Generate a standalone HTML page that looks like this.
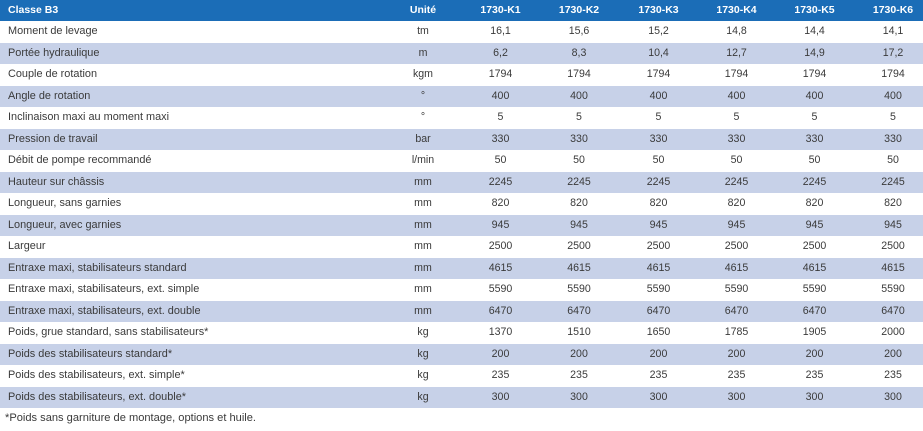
<!DOCTYPE html>
<html>
<head>
<meta charset="utf-8">
<style>
  html,body{margin:0;padding:0;background:#fff;}
  body{width:923px;height:431px;position:relative;overflow:hidden;font-family:"Liberation Sans",Arial,sans-serif;color:#3a3a3a;}
  .r{position:absolute;left:0;width:923px;height:21.5px;line-height:21.5px;font-size:10.6px;}
  .b{background:#c7d1e8;}
  .h{top:0;height:21px;line-height:21px;background:#1b6db7;color:#fff;font-weight:bold;font-size:10.5px;}
  .l{position:absolute;left:8px;font-size:10.9px;white-space:nowrap;}
  .c{position:absolute;width:70px;text-align:center;white-space:nowrap;}
  .u{left:388px;}
  .k1{left:465.5px;}
  .k2{left:544px;}
  .k3{left:623.5px;}
  .k4{left:701.5px;}
  .k5{left:779.5px;}
  .k6{left:858px;}
  .foot{position:absolute;left:5px;top:411px;font-size:11.1px;line-height:14px;white-space:nowrap;}
</style>
</head>
<body>
<div class="r h"><span class="l" style="font-size:10.5px">Classe B3</span><span class="c u">Unité</span><span class="c k1">1730-K1</span><span class="c k2">1730-K2</span><span class="c k3">1730-K3</span><span class="c k4">1730-K4</span><span class="c k5">1730-K5</span><span class="c k6">1730-K6</span></div>

<div class="r" style="top:21px"><span class="l">Moment de levage</span><span class="c u">tm</span><span class="c k1">16,1</span><span class="c k2">15,6</span><span class="c k3">15,2</span><span class="c k4">14,8</span><span class="c k5">14,4</span><span class="c k6">14,1</span></div>
<div class="r b" style="top:42.5px"><span class="l">Portée hydraulique</span><span class="c u">m</span><span class="c k1">6,2</span><span class="c k2">8,3</span><span class="c k3">10,4</span><span class="c k4">12,7</span><span class="c k5">14,9</span><span class="c k6">17,2</span></div>
<div class="r" style="top:64px"><span class="l">Couple de rotation</span><span class="c u">kgm</span><span class="c k1">1794</span><span class="c k2">1794</span><span class="c k3">1794</span><span class="c k4">1794</span><span class="c k5">1794</span><span class="c k6">1794</span></div>
<div class="r b" style="top:85.5px"><span class="l">Angle de rotation</span><span class="c u">°</span><span class="c k1">400</span><span class="c k2">400</span><span class="c k3">400</span><span class="c k4">400</span><span class="c k5">400</span><span class="c k6">400</span></div>
<div class="r" style="top:107px"><span class="l">Inclinaison maxi au moment maxi</span><span class="c u">°</span><span class="c k1">5</span><span class="c k2">5</span><span class="c k3">5</span><span class="c k4">5</span><span class="c k5">5</span><span class="c k6">5</span></div>
<div class="r b" style="top:128.5px"><span class="l">Pression de travail</span><span class="c u">bar</span><span class="c k1">330</span><span class="c k2">330</span><span class="c k3">330</span><span class="c k4">330</span><span class="c k5">330</span><span class="c k6">330</span></div>
<div class="r" style="top:150px"><span class="l">Débit de pompe recommandé</span><span class="c u">l/min</span><span class="c k1">50</span><span class="c k2">50</span><span class="c k3">50</span><span class="c k4">50</span><span class="c k5">50</span><span class="c k6">50</span></div>
<div class="r b" style="top:171.5px"><span class="l">Hauteur sur châssis</span><span class="c u">mm</span><span class="c k1">2245</span><span class="c k2">2245</span><span class="c k3">2245</span><span class="c k4">2245</span><span class="c k5">2245</span><span class="c k6">2245</span></div>
<div class="r" style="top:193px"><span class="l">Longueur, sans garnies</span><span class="c u">mm</span><span class="c k1">820</span><span class="c k2">820</span><span class="c k3">820</span><span class="c k4">820</span><span class="c k5">820</span><span class="c k6">820</span></div>
<div class="r b" style="top:214.5px"><span class="l">Longueur, avec garnies</span><span class="c u">mm</span><span class="c k1">945</span><span class="c k2">945</span><span class="c k3">945</span><span class="c k4">945</span><span class="c k5">945</span><span class="c k6">945</span></div>
<div class="r" style="top:236px"><span class="l">Largeur</span><span class="c u">mm</span><span class="c k1">2500</span><span class="c k2">2500</span><span class="c k3">2500</span><span class="c k4">2500</span><span class="c k5">2500</span><span class="c k6">2500</span></div>
<div class="r b" style="top:257.5px"><span class="l">Entraxe maxi, stabilisateurs standard</span><span class="c u">mm</span><span class="c k1">4615</span><span class="c k2">4615</span><span class="c k3">4615</span><span class="c k4">4615</span><span class="c k5">4615</span><span class="c k6">4615</span></div>
<div class="r" style="top:279px"><span class="l">Entraxe maxi, stabilisateurs, ext. simple</span><span class="c u">mm</span><span class="c k1">5590</span><span class="c k2">5590</span><span class="c k3">5590</span><span class="c k4">5590</span><span class="c k5">5590</span><span class="c k6">5590</span></div>
<div class="r b" style="top:300.5px"><span class="l">Entraxe maxi, stabilisateurs, ext. double</span><span class="c u">mm</span><span class="c k1">6470</span><span class="c k2">6470</span><span class="c k3">6470</span><span class="c k4">6470</span><span class="c k5">6470</span><span class="c k6">6470</span></div>
<div class="r" style="top:322px"><span class="l">Poids, grue standard, sans stabilisateurs*</span><span class="c u">kg</span><span class="c k1">1370</span><span class="c k2">1510</span><span class="c k3">1650</span><span class="c k4">1785</span><span class="c k5">1905</span><span class="c k6">2000</span></div>
<div class="r b" style="top:343.5px"><span class="l">Poids des stabilisateurs standard*</span><span class="c u">kg</span><span class="c k1">200</span><span class="c k2">200</span><span class="c k3">200</span><span class="c k4">200</span><span class="c k5">200</span><span class="c k6">200</span></div>
<div class="r" style="top:365px"><span class="l">Poids des stabilisateurs, ext. simple*</span><span class="c u">kg</span><span class="c k1">235</span><span class="c k2">235</span><span class="c k3">235</span><span class="c k4">235</span><span class="c k5">235</span><span class="c k6">235</span></div>
<div class="r b" style="top:386.5px"><span class="l">Poids des stabilisateurs, ext. double*</span><span class="c u">kg</span><span class="c k1">300</span><span class="c k2">300</span><span class="c k3">300</span><span class="c k4">300</span><span class="c k5">300</span><span class="c k6">300</span></div>

<div class="foot">*Poids sans garniture de montage, options et huile.</div>
</body>
</html>
